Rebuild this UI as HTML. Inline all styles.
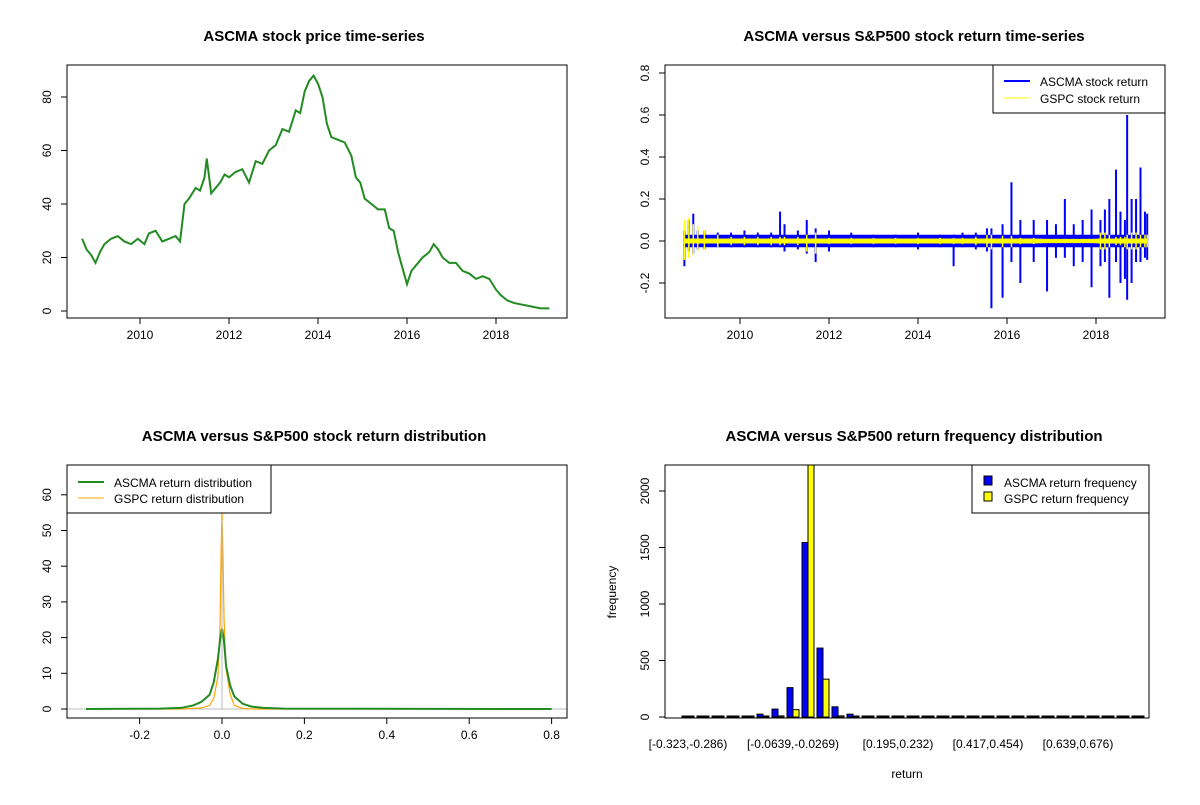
<!DOCTYPE html>
<html><head><meta charset="utf-8"><style>
body{margin:0;background:#fff}
svg text{font-family:"Liberation Sans",Arial,sans-serif}
</style></head><body>
<svg id="c" width="1200" height="800" xmlns="http://www.w3.org/2000/svg"></svg>
<script>
// ---- data ----
const priceYears=[2008.7,2008.8,2008.9,2009.0,2009.1,2009.2,2009.35,2009.5,2009.65,2009.8,2009.95,2010.1,2010.2,2010.35,2010.5,2010.65,2010.8,2010.9,2011.0,2011.1,2011.25,2011.35,2011.45,2011.5,2011.6,2011.7,2011.8,2011.9,2012.0,2012.15,2012.3,2012.45,2012.6,2012.75,2012.9,2013.05,2013.2,2013.35,2013.5,2013.6,2013.7,2013.8,2013.9,2014.0,2014.1,2014.2,2014.3,2014.45,2014.6,2014.75,2014.85,2014.95,2015.05,2015.2,2015.35,2015.5,2015.6,2015.7,2015.8,2015.9,2016.0,2016.1,2016.2,2016.35,2016.5,2016.6,2016.7,2016.8,2016.95,2017.1,2017.25,2017.4,2017.55,2017.7,2017.85,2018.0,2018.1,2018.25,2018.4,2018.55,2018.7,2018.85,2019.0,2019.2];
const priceVals=[27,23,21,18,22,25,27,28,26,25,27,25,29,30,26,27,28,26,40,42,46,45,50,57,44,46,48,51,50,52,53,48,56,55,60,62,68,67,75,74,82,86,88,85,80,70,65,64,63,58,50,48,42,40,38,38,31,30,22,16,10,15,17,20,22,25,23,20,18,18,15,14,12,13,12,8,6,4,3,2.5,2,1.5,1,1];
const retYears=[2008.75,2008.85,2008.95,2009.05,2009.2,2009.5,2009.8,2010.1,2010.4,2010.7,2010.9,2011.0,2011.3,2011.5,2011.7,2012.0,2012.5,2013.0,2013.5,2014.0,2014.5,2014.8,2015.0,2015.3,2015.55,2015.65,2015.9,2016.1,2016.3,2016.6,2016.9,2017.1,2017.3,2017.5,2017.7,2017.9,2018.1,2018.2,2018.3,2018.45,2018.55,2018.65,2018.7,2018.8,2018.9,2019.0,2019.1,2019.15];
const ascmaHi=[0.05,0.1,0.13,0.05,0.05,0.04,0.04,0.05,0.04,0.04,0.14,0.08,0.05,0.1,0.06,0.05,0.04,0.03,0.03,0.04,0.03,0.03,0.04,0.04,0.06,0.06,0.08,0.28,0.1,0.1,0.1,0.08,0.2,0.08,0.1,0.15,0.1,0.15,0.2,0.34,0.14,0.1,0.6,0.2,0.2,0.35,0.14,0.13];
const ascmaLo=[-0.12,-0.05,-0.06,-0.04,-0.04,-0.03,-0.03,-0.03,-0.03,-0.03,-0.03,-0.05,-0.04,-0.06,-0.1,-0.05,-0.03,-0.03,-0.03,-0.04,-0.03,-0.12,-0.03,-0.04,-0.05,-0.32,-0.27,-0.1,-0.2,-0.1,-0.24,-0.08,-0.08,-0.12,-0.1,-0.22,-0.12,-0.1,-0.27,-0.1,-0.2,-0.18,-0.28,-0.2,-0.1,-0.1,-0.08,-0.09];
const gspcHi=[0.1,0.11,0.08,0.07,0.05,0.03,0.02,0.02,0.02,0.02,0.02,0.02,0.02,0.03,0.04,0.015,0.015,0.015,0.015,0.015,0.015,0.015,0.015,0.02,0.03,0.03,0.025,0.025,0.015,0.015,0.01,0.01,0.01,0.01,0.01,0.01,0.04,0.04,0.03,0.02,0.02,0.02,0.03,0.04,0.04,0.03,0.03,0.03];
const gspcLo=[-0.09,-0.08,-0.07,-0.05,-0.04,-0.03,-0.02,-0.02,-0.02,-0.02,-0.02,-0.02,-0.02,-0.05,-0.06,-0.015,-0.015,-0.015,-0.015,-0.015,-0.015,-0.015,-0.015,-0.02,-0.03,-0.04,-0.03,-0.03,-0.015,-0.015,-0.01,-0.01,-0.01,-0.01,-0.01,-0.01,-0.04,-0.04,-0.03,-0.02,-0.02,-0.03,-0.04,-0.04,-0.04,-0.03,-0.03,-0.03];
const densAX=[-0.33,-0.15,-0.1,-0.07,-0.05,-0.03,-0.02,-0.01,-0.004,0,0.004,0.01,0.02,0.03,0.05,0.07,0.1,0.15,0.8];
const densAY=[0,0.1,0.3,1,2,4,7.5,14,20,22.5,20,12,6.5,3.5,1.5,0.7,0.3,0.1,0];
const densGX=[-0.33,-0.1,-0.05,-0.03,-0.02,-0.01,-0.005,-0.002,0,0.002,0.005,0.01,0.02,0.03,0.05,0.07,0.8];
const densGY=[0,0,0.3,1,3,9,22,45,55,45,25,11,4,1,0.2,0,0];
const binLabels=["[-0.323,-0.286)","[-0.0639,-0.0269)","[0.195,0.232)","[0.417,0.454)","[0.639,0.676)"];
const binLabelIdx=[0,7,14,20,26];
const ascmaFreq=[5,5,5,5,3,25,70,260,1544,610,90,25,5,2,5,5,1,1,5,0,0,0,0,0,0,0,0,0,0,0,0];
const gspcFreq=[0,0,0,0,0,3,10,65,2300,335,10,5,0,0,0,0,0,0,0,0,0,0,0,0,0,0,0,0,0,0,0];

const S=document.getElementById('c');const NS='http://www.w3.org/2000/svg';
function el(t,a,txt){const e=document.createElementNS(NS,t);for(const k in a)e.setAttribute(k,a[k]);if(txt!==undefined)e.textContent=txt;S.appendChild(e);return e;}
function T(x,y,s,o){o=o||{};const e=el('text',{x:x,y:y,'font-size':o.fs||12,'text-anchor':o.a||'middle','font-weight':o.b?'bold':'normal',fill:'#000',transform:o.r?`rotate(-90 ${x} ${y})`:''},s);return e;}
function box(x0,y0,x1,y1,n){const e=el('rect',{x:x0,y:y0,width:x1-x0,height:y1-y0,fill:'none',stroke:'#000','stroke-width':1});}
function yticks(x0,vals,fy,fmt){vals.forEach(v=>{const y=fy(v);el('line',{x1:x0,x2:x0-6,y1:y,y2:y,stroke:'#000'});const t=T(x0-16,y,fmt(v),{r:1});});}
function xticks(y0,vals,fx,fmt){vals.forEach(v=>{const x=fx(v);el('line',{x1:x,x2:x,y1:y0,y2:y0+6,stroke:'#000'});const t=T(x,y0+21,fmt(v));});}

// ---- panel 1 ----
{const fx=y=>140+(y-2010)*44.5, fy=v=>311-v*2.675;
T(314,41,'ASCMA stock price time-series',{fs:15,b:1});
box(67,65,567,318,'price-plot-area');
const p=el('polyline',{points:priceYears.map((y,i)=>fx(y)+','+fy(priceVals[i])).join(' '),fill:'none',stroke:'#228B22','stroke-width':2});

yticks(67,[0,20,40,60,80],fy,v=>v);xticks(318,[2010,2012,2014,2016,2018],fx,v=>v);}

// ---- panel 2 ----
{const fx=y=>740+(y-2010)*44.5, fy=v=>241-v*210;
T(914,41,'ASCMA versus S&P500 stock return time-series',{fs:15,b:1});
function spikes(hi,lo,col,w,bandAmp,name){
 const band=el('polygon',{points:retYears.map((y,i)=>fx(y)+','+fy(Math.min(hi[i],bandAmp))).concat(retYears.slice().reverse().map((y,j)=>{const i=retYears.length-1-j;return fx(y)+','+fy(Math.max(lo[i],-bandAmp));})).join(' '),fill:col});
 
 retYears.forEach((y,i)=>{const x=fx(y);const l=el('line',{x1:x,x2:x,y1:fy(hi[i]),y2:fy(lo[i]),stroke:col,'stroke-width':w});
  });}
spikes(ascmaHi,ascmaLo,'#0000FF',2,0.03,'ascma-return');
spikes(gspcHi,gspcLo,'#FFFF00',1.5,0.012,'gspc-return');
box(665,65,1165,318,'return-plot-area');
yticks(665,[-0.2,0,0.2,0.4,0.6,0.8],fy,v=>v.toFixed(1));xticks(318,[2010,2012,2014,2016,2018],fx,v=>v);
el('rect',{x:993,y:65,width:172,height:48,fill:'#fff',stroke:'#000'});
el('line',{x1:1004,x2:1030,y1:81,y2:81,stroke:'#0000FF','stroke-width':2});
el('line',{x1:1004,x2:1030,y1:98,y2:98,stroke:'#FFFF00','stroke-width':1});
T(1040,86,'ASCMA stock return',{a:'start'});T(1040,103,'GSPC stock return',{a:'start'});}

// ---- panel 3 ----
{const fx=v=>222+v*412, fy=v=>709-v*3.57;
T(314,441,'ASCMA versus S&P500 stock return distribution',{fs:15,b:1});
el('line',{x1:67,x2:567,y1:709,y2:709,stroke:'#bbb'});
const g=el('polyline',{points:densGX.map((x,i)=>fx(x)+','+fy(densGY[i])).join(' '),fill:'none',stroke:'#FFA500','stroke-width':1.2});

const a=el('polyline',{points:densAX.map((x,i)=>fx(x)+','+fy(densAY[i])).join(' '),fill:'none',stroke:'#228B22','stroke-width':2});

el('line',{x1:222,x2:222,y1:520,y2:709,stroke:'#bbb'});
box(67,465,567,718,'density-plot-area');
yticks(67,[0,10,20,30,40,50,60],fy,v=>v);xticks(718,[-0.2,0,0.2,0.4,0.6,0.8],fx,v=>v===0?'0.0':v.toFixed(1));
el('rect',{x:67,y:465,width:204,height:48,fill:'#fff',stroke:'#000'});
el('line',{x1:78,x2:104,y1:482,y2:482,stroke:'#228B22','stroke-width':2});
el('line',{x1:78,x2:104,y1:498,y2:498,stroke:'#FFA500','stroke-width':1});
T(114,487,'ASCMA return distribution',{a:'start'});T(114,503,'GSPC return distribution',{a:'start'});}

// ---- panel 4 ----
{const fy=v=>Math.max(465,717-v*0.113), gx=i=>682+i*15;
T(914,441,'ASCMA versus S&P500 return frequency distribution',{fs:15,b:1});
ascmaFreq.forEach((v,i)=>{const y=fy(v);const r=el('rect',{x:gx(i),y:Math.min(y,716),width:6,height:Math.max(717-y,1),fill:'#0000FF',stroke:'#000'});
 
 const y2=fy(gspcFreq[i]);const r2=el('rect',{x:gx(i)+6,y:Math.min(y2,716),width:6,height:Math.max(717-y2,1),fill:'#FFFF00',stroke:'#000'});
 });
box(665,465,1149,718,'hist-plot-area');
yticks(665,[0,500,1000,1500,2000],fy,v=>v);
binLabels.forEach((s,k)=>{const t=T(gx(binLabelIdx[k])+6,748,s);});
T(907,778,'return',{});
T(616,592,'frequency',{r:1});
el('rect',{x:972,y:465,width:177,height:48,fill:'#fff',stroke:'#000'});
el('rect',{x:984,y:476,width:8,height:9,fill:'#0000FF',stroke:'#000'});
el('rect',{x:984,y:492,width:8,height:9,fill:'#FFFF00',stroke:'#000'});
T(1004,487,'ASCMA return frequency',{a:'start'});T(1004,503,'GSPC return frequency',{a:'start'});}
</script>
</body></html>
